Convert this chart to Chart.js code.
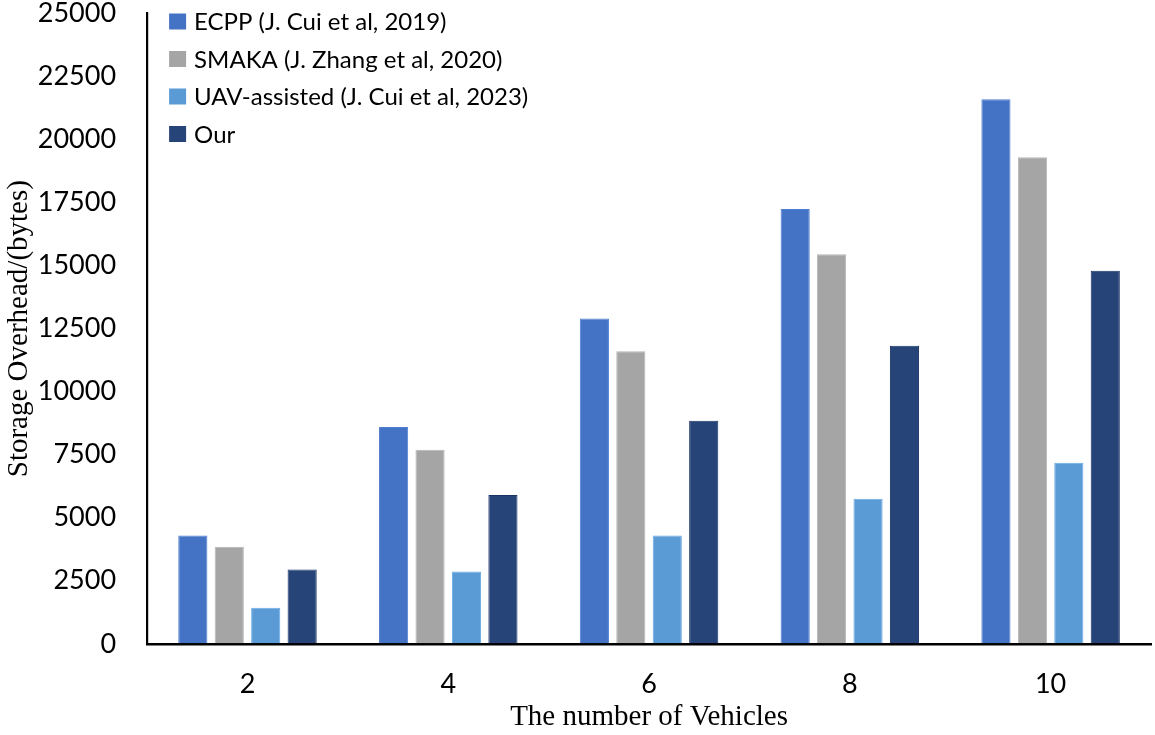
<!DOCTYPE html>
<html>
<head>
<meta charset="utf-8">
<script src="https://cdn.jsdelivr.net/npm/chart.js@4.4.1/dist/chart.umd.min.js"></script>
<style>
  html, body { margin: 0; padding: 0; background: #fff; }
  #wrap { width: 1155px; height: 735px; }
</style>
</head>
<body>
<div id="wrap"><canvas id="storageChart"></canvas></div>
<script>
const vehicles = ['2', '4', '6', '8', '10'];
const ecpp = [4300, 8600, 12900, 17250, 21600];
const smaka = [3850, 7700, 11600, 15450, 19300];
const uavAssisted = [1430, 2870, 4300, 5750, 7180];
const ours = [2950, 5900, 8850, 11820, 14800];
const yTicks = [0, 2500, 5000, 7500, 10000, 12500, 15000, 17500, 20000, 22500, 25000];

// legend drawn inside the plot, top-left, one item per row
const cornerLegend = {
  id: 'cornerLegend',
  afterDraw(chart) {
    const c = chart.ctx;
    const area = chart.chartArea;
    const items = Chart.defaults.plugins.legend.labels.generateLabels(chart);
    c.save();
    c.font = '24px Lato';
    c.textBaseline = 'middle';
    items.forEach((it, i) => {
      const cy = area.top + 8 + i * 37.5;
      c.fillStyle = it.fillStyle;
      c.fillRect(area.left + 22, cy - 8, 17, 16);
      c.fillStyle = '#000';
      c.fillText(it.text, area.left + 47, cy + 1);
    });
    c.restore();
  }
};

const ctx = document.getElementById('storageChart');

new Chart(ctx, {
  type: 'bar',
  data: {
    labels: vehicles,
    datasets: [
      { label: 'ECPP (J. Cui et al, 2019)', data: ecpp, backgroundColor: '#4472C4', borderColor: '#4F7FD2', borderWidth: 1 },
      { label: 'SMAKA (J. Zhang et al, 2020)', data: smaka, backgroundColor: '#A5A5A5', borderColor: '#B5B5B5', borderWidth: 1 },
      { label: 'UAV-assisted (J. Cui et al, 2023)', data: uavAssisted, backgroundColor: '#5B9BD5', borderColor: '#6BABE5', borderWidth: 1 },
      { label: 'Our', data: ours, backgroundColor: '#264478', borderColor: '#1A3466', borderWidth: 1 }
    ]
  },
  options: {
    responsive: true,
    maintainAspectRatio: false,
    animation: false,
    categoryPercentage: 0.726,
    barPercentage: 0.8,
    layout: { padding: { left: 2, right: 4, top: 0, bottom: 0 } },
    plugins: {
      legend: { display: false },
      tooltip: { enabled: false }
    },
    scales: {
      x: {
        // invisible tick marks give the gap between axis and labels
        grid: { display: true, drawOnChartArea: false, drawTicks: true, tickLength: 24, color: 'rgba(0,0,0,0)' },
        border: { display: true, color: '#000', width: 2.5 },
        ticks: { color: '#000', padding: 0, font: { family: 'Lato', size: 27 } },
        title: {
          display: true,
          text: 'The number of Vehicles',
          color: '#000',
          padding: { top: 0, bottom: 0 },
          font: { family: 'Liberation Serif', size: 29 }
        }
      },
      y: {
        min: 0,
        max: 25000,
        afterBuildTicks(scale) {
          scale.ticks = yTicks.map(v => ({ value: v }));
        },
        grid: { display: true, drawOnChartArea: false, drawTicks: true, tickLength: 31, color: 'rgba(0,0,0,0)' },
        border: { display: true, color: '#000', width: 2.2 },
        ticks: {
          color: '#000',
          padding: 0,
          font: { family: 'Lato', size: 27, lineHeight: 1.0 },
          callback: v => String(v)
        },
        title: {
          display: true,
          text: 'Storage Overhead/(bytes)',
          color: '#000',
          padding: { top: 0, bottom: 1 },
          font: { family: 'Liberation Serif', size: 29 }
        }
      }
    }
  },
  plugins: [cornerLegend]
});
</script>
</body>
</html>
